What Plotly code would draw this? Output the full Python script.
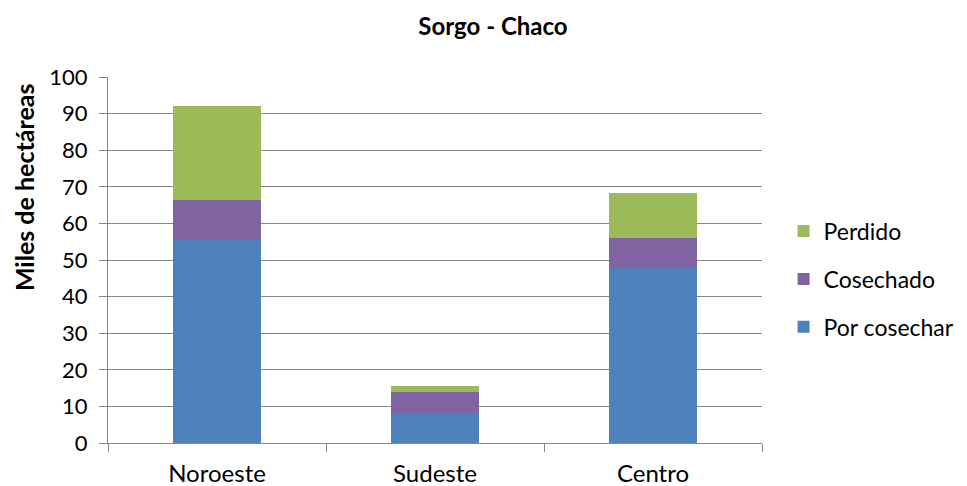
import plotly.graph_objects as go

categories = ["Noroeste", "Sudeste", "Centro"]
por_cosechar = [55.6, 8.3, 47.9]
cosechado = [10.9, 5.7, 8.2]
perdido = [25.5, 1.5, 12.1]
y_ticks = list(range(0, 101, 10))

FONT = "Lato, 'Open Sans', sans-serif"
fig = go.Figure()
series = [("Por cosechar", por_cosechar, "#4F81BD", 3),
          ("Cosechado", cosechado, "#8064A2", 2),
          ("Perdido", perdido, "#9BBB59", 1)]
for name, vals, col, rank in series:
    fig.add_trace(go.Bar(x=categories, y=vals, name=name, legendgroup=name,
                         legendrank=rank,
                         marker=dict(color=col, line=dict(width=0)), width=0.4))

fig.update_layout(
    barmode="stack",
    width=959, height=478,
    margin=dict(l=100, r=205, t=69, b=43, autoexpand=False),
    paper_bgcolor="white", plot_bgcolor="white",
    font=dict(family=FONT, size=24, color="#000000"),
    title=dict(text="<b>Sorgo - Chaco</b>", x=485 / 959, xanchor="center",
               y=1 - 19 / 478, yanchor="middle", font=dict(size=24)),
    legend=dict(x=1.033, xanchor="left", y=0.448, yanchor="middle",
                traceorder="grouped", tracegroupgap=15, font=dict(size=23)),
    xaxis=dict(showline=True, linecolor="#868686", linewidth=1,
               ticks="outside", tickson="boundaries", ticklen=8, tickcolor="#868686",
               showgrid=False, ticklabelstandoff=9, tickfont=dict(size=24)),
    yaxis=dict(range=[0, 100], tickvals=y_ticks, showline=True, linecolor="#868686",
               linewidth=1, ticks="outside", ticklen=8, tickcolor="#868686",
               showgrid=True, gridcolor="#868686", gridwidth=1,
               ticklabelstandoff=7, tickfont=dict(size=22)),
    annotations=[dict(text="<b>Miles de hectáreas</b>", xref="paper", yref="paper",
                      x=-0.128, y=0.70, xanchor="center", yanchor="middle",
                      textangle=-90, showarrow=False, font=dict(size=25))],
)
fig.write_html("out.html")
